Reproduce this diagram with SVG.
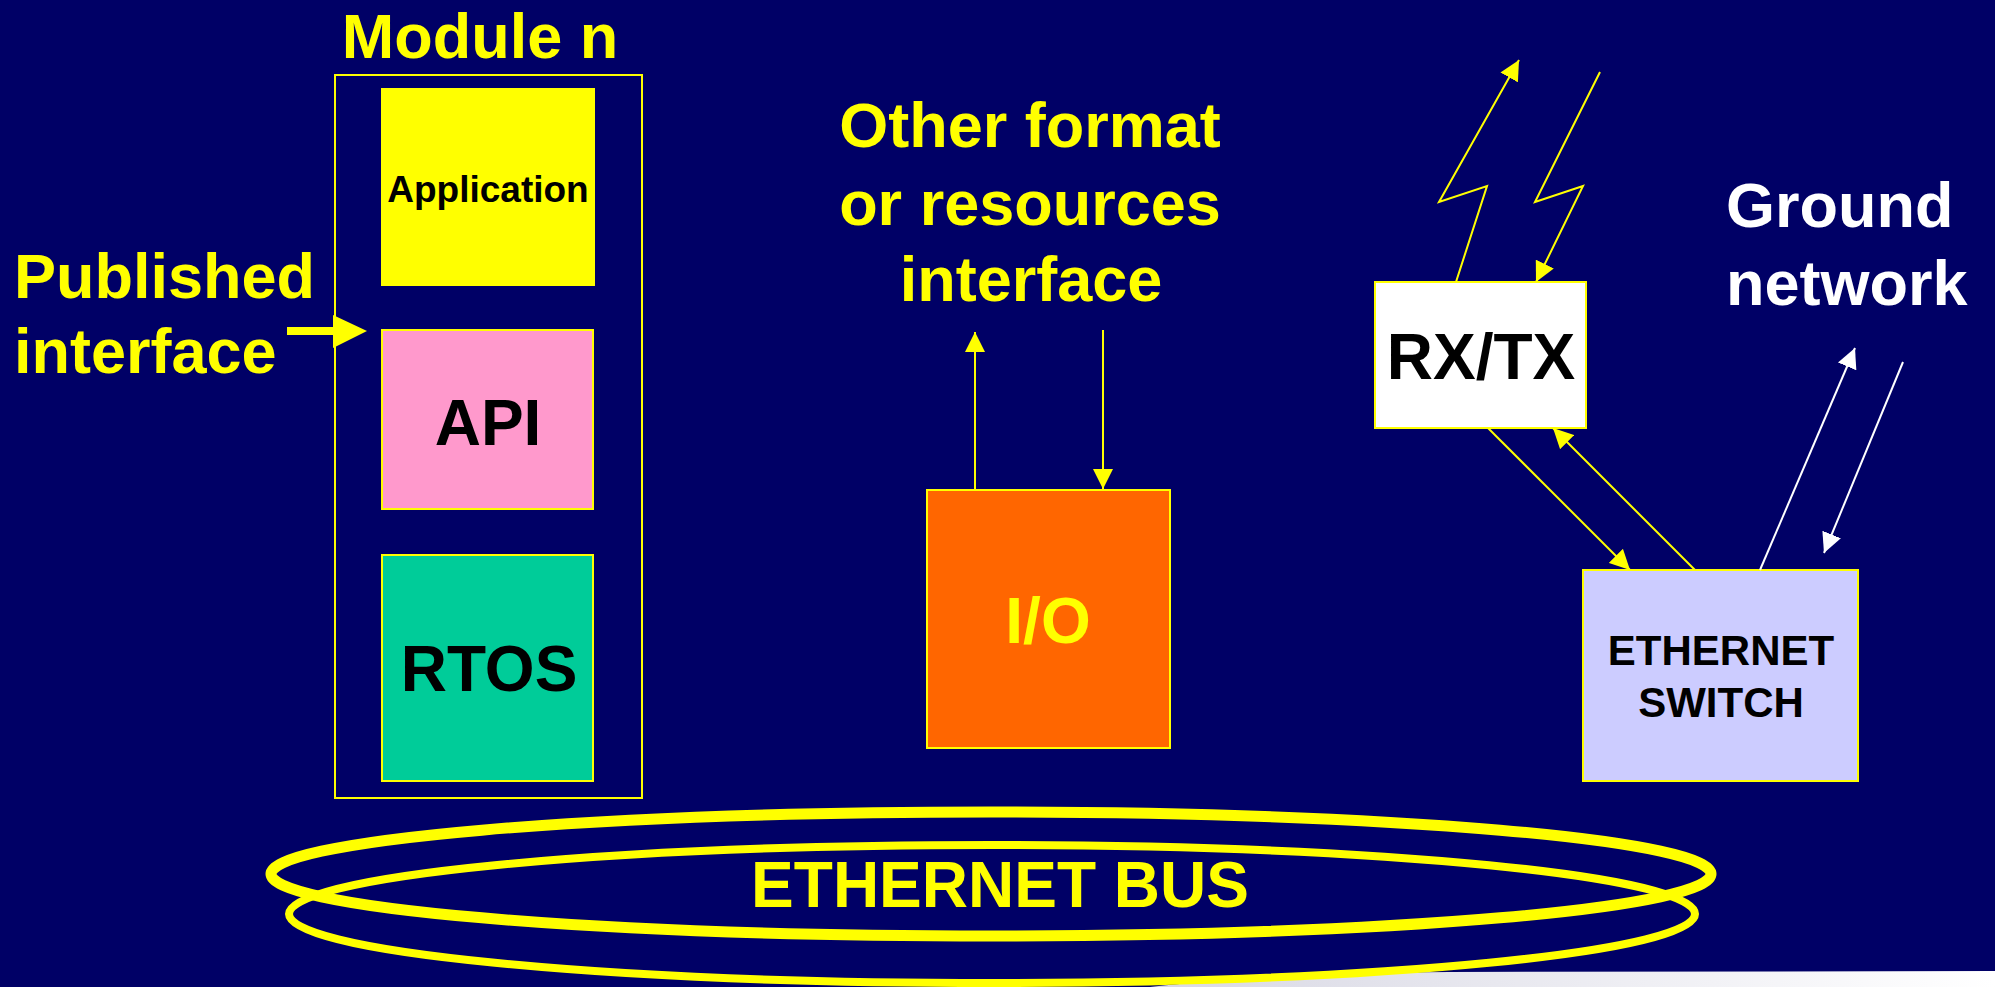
<svg xmlns="http://www.w3.org/2000/svg" width="1995" height="987" viewBox="0 0 1995 987">
<style>
  text { font-family: "Liberation Sans", Arial, sans-serif; font-weight: bold; }
  .big { font-size: 63px; }
  .yel { fill: #FFFF00; }
  .wht { fill: #FFFFFF; }
  .blk { fill: #000000; }
  .box { stroke: #FFFF00; stroke-width: 2; }
  .cy { stroke: #FFFF00; stroke-width: 2; fill: none; }
  .cw { stroke: #FFFFFF; stroke-width: 2; fill: none; }
</style>
<defs>
  <marker id="ay" viewBox="0 0 10 10" refX="10" refY="5" markerWidth="20" markerHeight="20" markerUnits="userSpaceOnUse" orient="auto">
    <path d="M0,0 L10,5 L0,10 z" fill="#FFFF00"/>
  </marker>
  <marker id="aw" viewBox="0 0 10 10" refX="10" refY="5" markerWidth="20" markerHeight="20" markerUnits="userSpaceOnUse" orient="auto">
    <path d="M0,0 L10,5 L0,10 z" fill="#FFFFFF"/>
  </marker>
  <linearGradient id="strip" x1="0" y1="0" x2="1" y2="0">
    <stop offset="0" stop-color="#D8D8E4"/>
    <stop offset="1" stop-color="#FFFFFF"/>
  </linearGradient>
</defs>

<rect x="0" y="0" width="1995" height="987" fill="#000066"/>
<path d="M1150,987 Q1260,974 1450,972 L1995,971 L1995,987 Z" fill="url(#strip)"/>

<g id="module">
  <text class="big yel" x="480" y="58" text-anchor="middle">Module n</text>
  <rect x="335" y="75" width="307" height="723" fill="none" class="box"/>
</g>
<g id="application">
  <rect x="382" y="89" width="212" height="196" fill="#FFFF00" class="box"/>
  <text class="blk" x="488" y="202" font-size="37" text-anchor="middle">Application</text>
</g>
<g id="api">
  <rect x="382" y="330" width="211" height="179" fill="#FF99CC" class="box"/>
  <text class="blk" x="488" y="445" font-size="64" text-anchor="middle">API</text>
</g>
<g id="rtos">
  <rect x="382" y="555" width="211" height="226" fill="#00CC99" class="box"/>
  <text class="blk" x="489" y="691" font-size="64" text-anchor="middle">RTOS</text>
</g>
<g id="published-interface">
  <text class="big yel" x="14" y="298">Published</text>
  <text class="big yel" x="14" y="373">interface</text>
</g>
<g id="other-interface">
  <text class="big yel" x="1030" y="147" text-anchor="middle">Other format</text>
  <text class="big yel" x="1030" y="225" text-anchor="middle">or resources</text>
  <text class="big yel" x="1031" y="301" text-anchor="middle">interface</text>
</g>
<g id="io">
  <rect x="927" y="490" width="243" height="258" fill="#FF6600" class="box"/>
  <text class="yel" x="1048" y="643" font-size="64" text-anchor="middle">I/O</text>
</g>
<g id="rxtx">
  <rect x="1375" y="282" width="211" height="146" fill="#FFFFFF" class="box"/>
  <text class="blk" x="1481" y="379" font-size="64" text-anchor="middle">RX/TX</text>
</g>
<g id="ground-network">
  <text class="big wht" x="1726" y="227">Ground</text>
  <text class="big wht" x="1726" y="305">network</text>
</g>
<g id="switch">
  <rect x="1583" y="570" width="275" height="211" fill="#CCCCFF" class="box"/>
  <text class="blk" x="1721" y="665" font-size="42" text-anchor="middle">ETHERNET</text>
  <text class="blk" x="1721" y="717" font-size="42" text-anchor="middle">SWITCH</text>
</g>
<g id="ethernet-bus">
  <ellipse cx="992" cy="914" rx="703" ry="69" fill="none" stroke="#FFFF00" stroke-width="8"/>
  <ellipse cx="991" cy="874" rx="720" ry="62" fill="none" stroke="#FFFF00" stroke-width="11"/>
  <text class="yel" x="1000" y="907" font-size="64" text-anchor="middle">ETHERNET BUS</text>
</g>

<g id="connectors">
  <line x1="287" y1="331" x2="335" y2="331" stroke="#FFFF00" stroke-width="8"/>
  <polygon points="333,315 367,331 333,348" fill="#FFFF00"/>
  <line class="cy" x1="975" y1="490" x2="975" y2="332" marker-end="url(#ay)"/>
  <line class="cy" x1="1103" y1="330" x2="1103" y2="489" marker-end="url(#ay)"/>
  <polyline class="cy" points="1456,282 1487,186 1439,202 1519,60" marker-end="url(#ay)"/>
  <polyline class="cy" points="1600,72 1535,202 1583,186 1536,282" marker-end="url(#ay)"/>
  <line class="cy" x1="1488" y1="428" x2="1630" y2="570" marker-end="url(#ay)"/>
  <line class="cy" x1="1695" y1="570" x2="1553" y2="428" marker-end="url(#ay)"/>
  <line class="cw" x1="1760" y1="570" x2="1855" y2="348" marker-end="url(#aw)"/>
  <line class="cw" x1="1903" y1="362" x2="1824" y2="553" marker-end="url(#aw)"/>
</g>
</svg>
